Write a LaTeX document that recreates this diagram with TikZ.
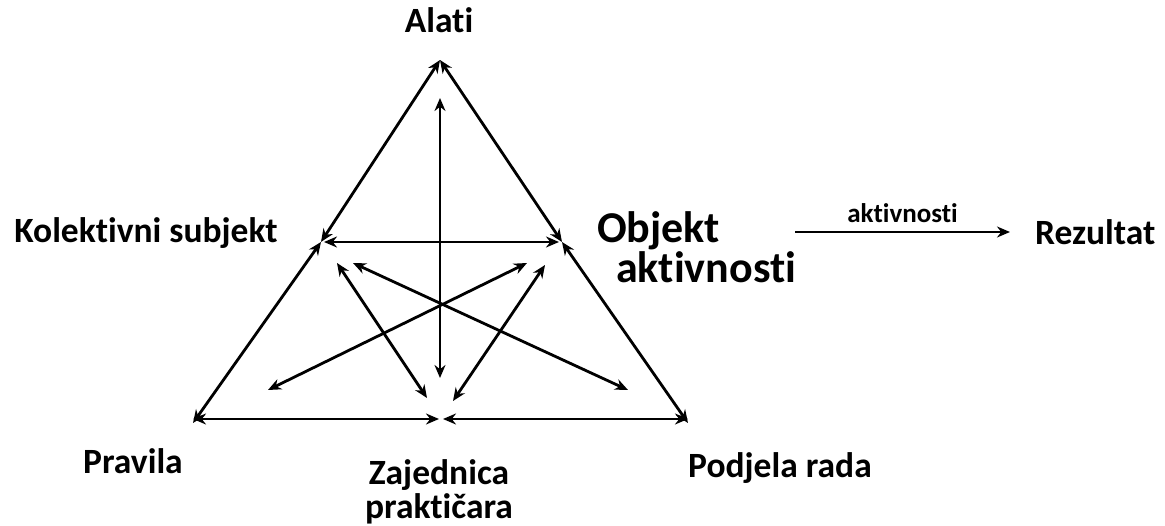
\documentclass[tikz,border=0pt]{standalone}
\usepackage{fontspec}
\setmainfont[RawFeature={-liga;-clig;-calt;-dlig;-ccmp}]{Carlito}
\usetikzlibrary{arrows.meta}
\tikzset{
  lbl/.style={font=\bfseries\fontsize{35.5}{33}\selectfont, inner sep=0pt, anchor=base, align=center},
  biarrow/.style={line width=2.8pt, {Stealth[length=13pt,width=11pt]}-{Stealth[length=13pt,width=11pt]}},
  onearrow/.style={line width=2.8pt, -{Stealth[length=13pt,width=11pt]}}
}
\begin{document}
\begin{tikzpicture}[x=1pt,y=-1pt]
\useasboundingbox (0,0) rectangle (1165,526);
% vrhovi trokuta
\coordinate (alat) at (440,60);
\coordinate (subj) at (321,242);
\coordinate (obj) at (562,242);
\coordinate (prav) at (193,423);
\coordinate (zaj) at (441,419);
\coordinate (podj) at (688,423);
% unutarnje strelice
\coordinate (vgore) at (440,98);
\coordinate (vdolje) at (440,378);
\coordinate (d1a) at (353,263);
\coordinate (d1b) at (628,390);
\coordinate (d2a) at (527,263);
\coordinate (d2b) at (268,390);
\coordinate (d3a) at (337,263);
\coordinate (d3b) at (427,398);
\coordinate (d4a) at (545,265);
\coordinate (d4b) at (453,401);
\draw[biarrow] (alat) -- (subj);
\draw[biarrow] (alat) -- (obj);
\draw[biarrow] (subj) -- (prav);
\draw[biarrow] (obj) -- (podj);
\draw[biarrow] ([xshift=3pt]subj) -- ([xshift=-3pt]obj);
\draw[biarrow] (prav |- zaj) -- ([xshift=-2pt]zaj);
\draw[biarrow] ([xshift=2pt]zaj) -- (podj |- zaj);
\draw[biarrow] (vgore) -- (vdolje);
\draw[biarrow] (d1a) -- (d1b);
\draw[biarrow] (d2a) -- (d2b);
\draw[biarrow] (d3a) -- (d3b);
\draw[biarrow] (d4a) -- (d4b);
% oznake
\node[lbl] (alati) at (439,33) {Alati};
\node[lbl] (kolsubj) at (146,243) {Kolektivni subjekt};
\node[lbl, anchor=base west, font=\bfseries\fontsize{44}{40}\selectfont] (objekt) at (597,243) {Objekt};
\node[lbl, anchor=base west, font=\bfseries\fontsize{44}{40}\selectfont] (objakt) at (616,283) {aktivnosti};
\node[lbl] (pravila) at (133,473) {Pravila};
\node[lbl] (zajednica) at (439,518) {Zajednica\\prakti\v{c}ara};
\node[lbl] (podjela) at (780,477) {Podjela rada};
\node[lbl, anchor=base west] (rezultat) at (1035,245) {Rezultat};
\coordinate (strpoc) at (795,232);
\draw[onearrow] (strpoc) -- ([xshift=-25pt]rezultat.west |- strpoc) node[midway, above=8pt, font=\bfseries\fontsize{27}{30}\selectfont, inner sep=0pt] (aktiv) {aktivnosti};
\end{tikzpicture}
\end{document}
